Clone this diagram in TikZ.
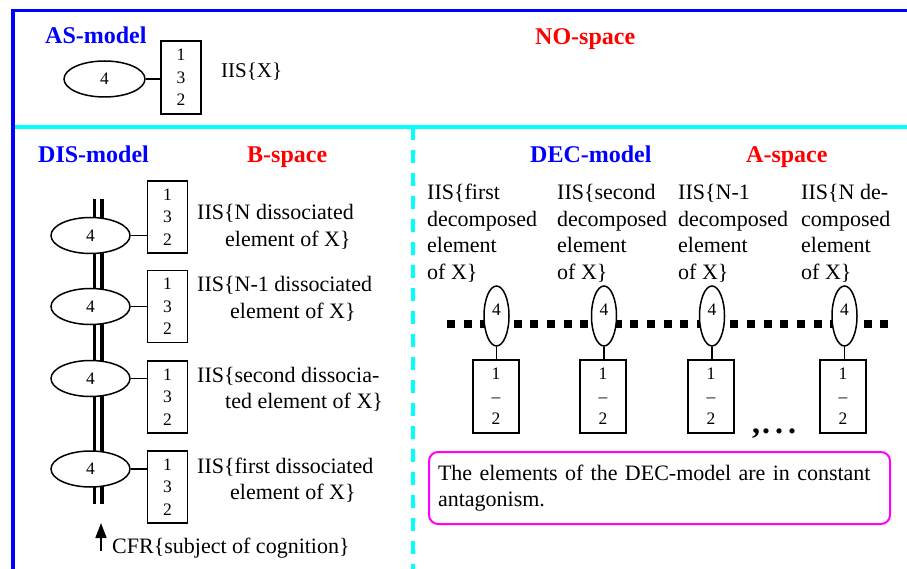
\documentclass[tikz,border=0pt]{standalone}
\usepackage{fontspec}
\setmainfont{Liberation Serif}
\usetikzlibrary{arrows.meta,shapes.geometric}
\definecolor{fblue}{RGB}{0,0,255}
\definecolor{fcyan}{RGB}{0,255,255}
\definecolor{fred}{RGB}{255,0,0}
\definecolor{fmag}{RGB}{255,0,255}
\newcommand{\bodyfont}{\fontsize{22}{26.5}\selectfont}
\newcommand{\digfont}{\fontsize{17.5}{22.3}\selectfont}
\newcommand{\hdfont}{\fontsize{24}{28}\selectfont\bfseries}
\begin{document}
\begin{tikzpicture}[x=1pt,y=-1pt,
  hd/.style={anchor=base west,inner sep=0pt,font=\hdfont},
  lbl/.style={anchor=base west,inner sep=0pt,font=\bodyfont},
  ell/.style={ellipse,draw,line width=1.5pt,fill=white,inner sep=0pt,font=\digfont},
  hell/.style={ell,minimum width=79pt,minimum height=36pt},
  vell/.style={ell,minimum width=25pt,minimum height=60pt},
  numbox/.style={rectangle,draw,line width=1.5pt,fill=white,inner sep=0pt,align=center,font=\digfont,minimum width=40pt,minimum height=72pt},
  decbox/.style={numbox,minimum width=46pt,minimum height=73pt},
  conn/.style={line width=1.5pt}]
\useasboundingbox (0,0) rectangle (907,569);
% frames
\draw[fblue,line width=3.5pt] (11,10.5) -- (907,10.5);
\draw[fblue,line width=4pt] (13,9) -- (13,569);
\draw[fcyan,line width=4pt] (15,127) -- (907,127);
\draw[fcyan,line width=4pt,dash pattern=on 13pt off 10pt] (413,127) -- (413,569);
% headings
\node[hd,text=fblue] (ash) at (45,44) {AS-model};
\node[hd,text=fred] (nos) at (535,45) {NO-space};
\node[hd,text=fblue] (dish) at (38,163) {DIS-model};
\node[hd,text=fred] (bsp) at (247,163) {B-space};
\node[hd,text=fblue] (dech) at (530,163) {DEC-model};
\node[hd,text=fred] (asp) at (746,163) {A-space};
% AS model
\node[ell,minimum width=81pt,minimum height=36pt] (ase) at (104.5,79) {4};
\node[numbox,minimum height=73pt] (asb) at (181,77.5) {1\\3\\2};
\draw[conn] (ase.east) -- (ase.east -| asb.west);
\node[lbl,font=\fontsize{21}{25}\selectfont] (asl) at (221,77.3) {IIS\{X\}};
% DIS model spine
\coordinate (spT) at (98.25,199);
\coordinate (spB) at (98.25,504);
\draw[line width=3.5pt,double=white,double distance=4pt] (spT) -- (spB);
\foreach \i/\ey/\by in {1/235.5/217,2/306.5/306.5,3/378.5/397,4/469/487}{
  \node[hell] (de\i) at (90.5,\ey) {4};
  \node[numbox] (db\i) at (167.5,\by) {1\\3\\2};
  \draw[conn] (de\i.east) -- (de\i.east -| db\i.west);
}
\node[lbl] (dl1) at (197,220) {\begin{tabular}[t]{@{}l@{}}IIS\{N dissociated\\\hspace*{28pt}element of X\}\end{tabular}};
\node[lbl] (dl2) at (197,291.7) {\begin{tabular}[t]{@{}l@{}}IIS\{N-1 dissociated\\\hspace*{33pt}element of X\}\end{tabular}};
\node[lbl] (dl3) at (197,382) {\begin{tabular}[t]{@{}l@{}}IIS\{second dissocia-\\\hspace*{28pt}ted element of X\}\end{tabular}};
\node[lbl] (dl4) at (197,473) {\begin{tabular}[t]{@{}l@{}}IIS\{first dissociated\\\hspace*{33pt}element of X\}\end{tabular}};
\coordinate (arT) at (101,551);
\coordinate (arH) at (101,523);
\draw[line width=1.5pt,-{Triangle[width=11pt,length=15pt]}] (arT) -- (arH);
\node[lbl] (cfr) at (112,553) {CFR\{subject of cognition\}};
% DEC model
\coordinate (dotL) at (447,323.5);
\coordinate (dotR) at (888.5,323.5);
\draw[line width=8pt,dash pattern=on 8pt off 8.67pt] (dotL) -- (dotR);
\foreach \i/\ex/\bx in {1/496.5/496,2/604/603,3/712/711,4/844.5/843}{
  \node[vell] (ce\i) at (\ex,316) {\raisebox{6pt}[\height][\depth]{4}};
  \node[decbox] (cb\i) at (\bx,396.5) {1\\–\\2};
  \draw[conn] (ce\i.south) -- (ce\i.south |- cb\i.north);
}
\node[lbl] (cl1) at (427,200) {\begin{tabular}[t]{@{}l@{}}IIS\{first\\decomposed\\element\\of X\}\end{tabular}};
\node[lbl] (cl2) at (557,200) {\begin{tabular}[t]{@{}l@{}}IIS\{second\\decomposed\\element\\of X\}\end{tabular}};
\node[lbl] (cl3) at (678,200) {\begin{tabular}[t]{@{}l@{}}IIS\{N-1\\decomposed\\element\\of X\}\end{tabular}};
\node[lbl] (cl4) at (801,200) {\begin{tabular}[t]{@{}l@{}}IIS\{N de-\\composed\\element\\of X\}\end{tabular}};
\node[anchor=base west,inner sep=0pt,font=\fontsize{32}{36}\selectfont\bfseries] (dots) at (752,433) {,\kern2pt.\kern5pt.\kern5pt.};
\node[draw=fmag,line width=2pt,rounded corners=9pt,anchor=north west,minimum width=461pt,minimum height=72pt,text width=443pt,align=left,inner xsep=9pt,font=\bodyfont] (note) at (428,451) {The elements of the DEC-model are in constant\\antagonism.};
\end{tikzpicture}
\end{document}
